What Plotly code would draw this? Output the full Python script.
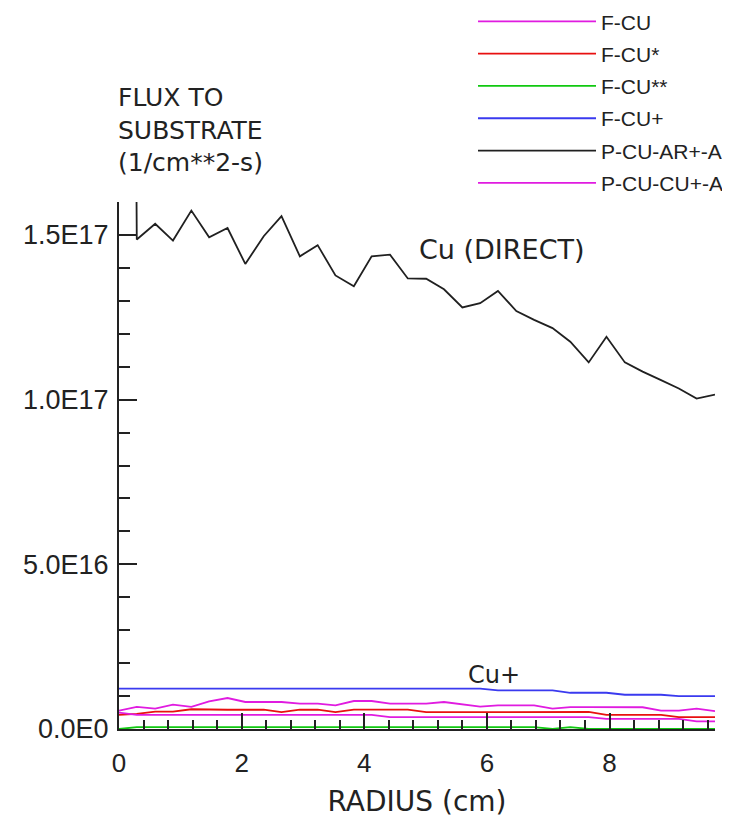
import plotly.graph_objects as go

# ---------------- data ----------------
radius = [0.0, 0.29, 0.59, 0.88, 1.18, 1.47, 1.77, 2.06, 2.36, 2.65, 2.95, 3.24,
          3.53, 3.83, 4.12, 4.42, 4.71, 5.01, 5.30, 5.60, 5.89, 6.18, 6.48, 6.77,
          7.07, 7.36, 7.66, 7.95, 8.25, 8.54, 8.84, 9.13, 9.42, 9.72]

f_cu = [5.6e15, 6.7e15, 6.2e15, 7.4e15, 6.7e15, 8.4e15, 9.4e15, 8.2e15, 8.2e15, 8.2e15,
        7.7e15, 7.7e15, 7.2e15, 8.5e15, 8.5e15, 7.7e15, 7.7e15, 7.7e15, 8.2e15, 7.4e15,
        6.8e15, 7.2e15, 7.2e15, 7.2e15, 6.2e15, 6.65e15, 6.65e15, 6.65e15, 6.65e15, 6.6e15,
        5.6e15, 5.6e15, 6.2e15, 5.4e15]

f_cu_star = [4.3e15, 4.6e15, 5.3e15, 5.3e15, 6.0e15, 5.85e15, 5.85e15, 5.85e15, 5.85e15, 5.1e15,
             5.85e15, 5.85e15, 5.1e15, 5.9e15, 5.9e15, 5.9e15, 5.9e15, 5.1e15, 5.1e15, 5.1e15,
             5.1e15, 5.1e15, 5.1e15, 5.2e15, 5.2e15, 5.2e15, 5.2e15, 4.3e15, 4.3e15, 4.3e15,
             4.3e15, 3.6e15, 3.6e15, 3.6e15]

f_cu_2star = [0.0, 5.5e14, 5.5e14, 5.5e14, 5.5e14, 5.5e14, 5.5e14, 5.5e14, 5.5e14, 5.5e14,
              5.5e14, 5.5e14, 5.5e14, 5.5e14, 5.5e14, 5.5e14, 5.5e14, 5.5e14, 5.5e14, 5.5e14,
              5.5e14, 5.5e14, 5.5e14, 5.5e14, 0.5e14, 5.5e14, 0.5e14, 0.5e14, 0.5e14, 0.5e14,
              0.5e14, 0.5e14, 0.5e14, 0.5e14]

f_cu_plus = [1.226e16, 1.226e16, 1.226e16, 1.226e16, 1.226e16, 1.226e16, 1.226e16, 1.226e16,
             1.226e16, 1.226e16, 1.226e16, 1.226e16, 1.226e16, 1.226e16, 1.226e16, 1.226e16,
             1.226e16, 1.226e16, 1.226e16, 1.226e16, 1.226e16, 1.17e16, 1.17e16, 1.17e16,
             1.17e16, 1.10e16, 1.10e16, 1.10e16, 1.04e16, 1.04e16, 1.04e16, 1.0e16, 1.0e16, 1.0e16]

p_cu_ar = [1.0e18, 1.486e17, 1.534e17, 1.483e17, 1.574e17, 1.493e17, 1.521e17, 1.412e17,
           1.496e17, 1.557e17, 1.435e17, 1.469e17, 1.377e17, 1.344e17, 1.435e17, 1.440e17,
           1.368e17, 1.367e17, 1.335e17, 1.280e17, 1.293e17, 1.330e17, 1.269e17, 1.242e17,
           1.217e17, 1.176e17, 1.113e17, 1.191e17, 1.113e17, 1.085e17, 1.059e17, 1.034e17,
           1.003e17, 1.015e17]

p_cu_cu = [5.0e15, 4.3e15, 4.3e15, 4.3e15, 4.3e15, 4.3e15, 4.3e15, 4.3e15, 4.3e15, 4.3e15,
           4.3e15, 4.3e15, 4.3e15, 4.3e15, 4.3e15, 3.6e15, 3.6e15, 3.6e15, 3.6e15, 3.6e15,
           3.6e15, 3.6e15, 3.6e15, 3.6e15, 3.6e15, 3.6e15, 3.6e15, 3.1e15, 3.1e15, 3.1e15,
           3.1e15, 3.1e15, 2.3e15, 2.3e15]

series_names = ["F-CU", "F-CU*", "F-CU**", "F-CU+", "P-CU-AR+-A", "P-CU-CU+-A"]
series_values = [f_cu, f_cu_star, f_cu_2star, f_cu_plus, p_cu_ar, p_cu_cu]
series_colors = ["#e01be0", "#e81010", "#10c810", "#3a3aef", "#202020", "#e01be0"]

y_tickvals = [0, 5e16, 1e17, 1.5e17]
y_ticktext = ["0.0E0", "5.0E16", "1.0E17", "1.5E17"]
x_tickvals = [0, 2, 4, 6, 8]

# ---------------- figure ----------------
fig = go.Figure()
for i, (name, vals, col) in enumerate(zip(series_names, series_values, series_colors)):
    fig.add_trace(go.Scatter(
        x=radius, y=vals, mode="lines", name=name, legendgroup=f"g{i}",
        line=dict(color=col, width=1.8, shape="linear"),
    ))

FONT = "DejaVu Sans"
TICKFONT = "Liberation Sans"
fig.update_layout(
    width=730, height=818,
    paper_bgcolor="white", plot_bgcolor="white",
    margin=dict(l=111, r=23, t=194, b=97, autoexpand=False),
    font=dict(family=FONT, color="#222", size=24),
    showlegend=True,
    legend=dict(
        xref="container", yref="paper",
        x=0.637, y=1.381, xanchor="left", yanchor="top",
        font=dict(family="Liberation Sans", size=21, color="#222"),
        itemwidth=118, tracegroupgap=2, bgcolor="rgba(0,0,0,0)",
    ),
    xaxis=dict(
        range=[0, 9.72], tickvals=x_tickvals, ticks="inside", ticklen=16, tickwidth=2,
        tickcolor="#222", showline=True, linecolor="#222", linewidth=2,
        showgrid=False, zeroline=False, ticklabelstandoff=10,
        tickfont=dict(family=TICKFONT, size=26, color="#222"),
        minor=dict(dtick=0.4, ticks="inside", ticklen=9, tickwidth=2, tickcolor="#222", showgrid=False),
        title=dict(text="RADIUS (cm)", font=dict(family=FONT, size=28, color="#222"), standoff=14),
    ),
    yaxis=dict(
        range=[0, 1.6e17], tickvals=y_tickvals, ticktext=y_ticktext, ticks="inside",
        ticklen=18, tickwidth=2, tickcolor="#222", showline=True, linecolor="#222",
        linewidth=2, showgrid=False, zeroline=False, ticklabelstandoff=3,
        tickfont=dict(family=TICKFONT, size=27, color="#222"),
        minor=dict(dtick=1e16, ticks="inside", ticklen=11, tickwidth=2, tickcolor="#222", showgrid=False),
    ),
    annotations=[
        dict(text="FLUX TO<br>SUBSTRATE<br>(1/cm**2-s)", xref="paper", yref="paper",
             x=0, y=1, xshift=-3, yshift=121, xanchor="left", yanchor="top", align="left",
             showarrow=False, font=dict(family=FONT, size=25, color="#222")),
        dict(text="Cu (DIRECT)", x=6.25, y=1.455e17, showarrow=False,
             font=dict(family=FONT, size=27, color="#222")),
        dict(text="Cu+", x=6.11, y=1.63e16, showarrow=False,
             font=dict(family=FONT, size=24, color="#222")),
    ],
)

fig.write_html("out.html")
